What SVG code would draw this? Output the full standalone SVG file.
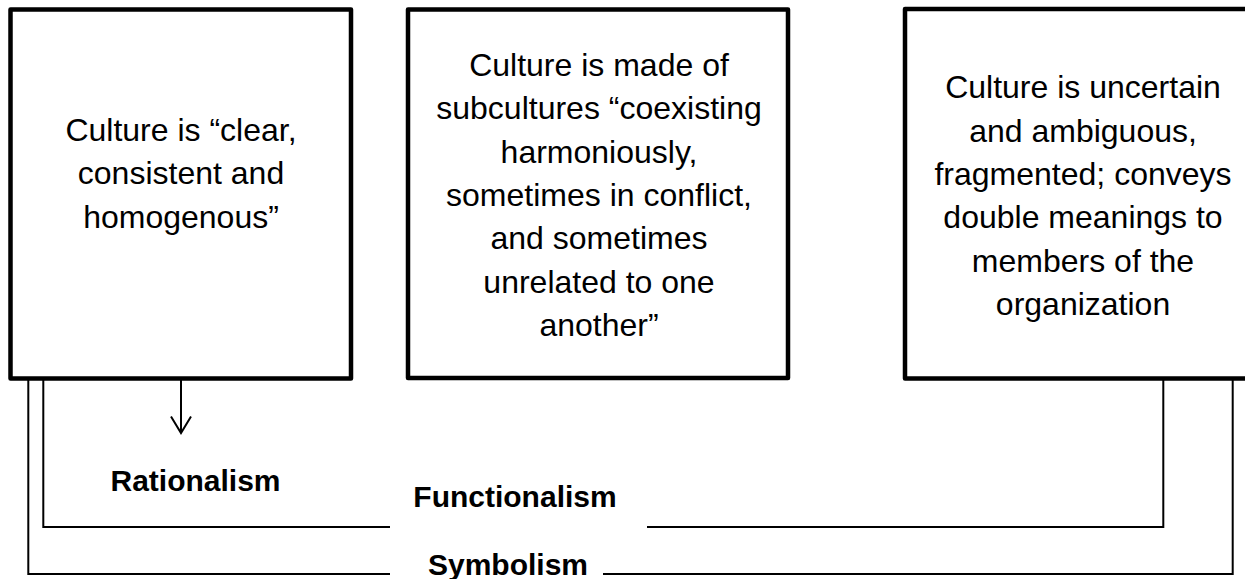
<svg xmlns="http://www.w3.org/2000/svg" width="1245" height="579" viewBox="0 0 1245 579">
<style>
.box{fill:#fff;stroke:#000;stroke-width:4.5;stroke-linejoin:round}
.t{font-family:"Liberation Sans",Arial,sans-serif;font-size:32px;fill:#000;text-anchor:middle}
.lbl{font-family:"Liberation Sans",Arial,sans-serif;font-size:30px;font-weight:bold;fill:#000;text-anchor:middle}
.c{fill:none;stroke:#000;stroke-width:2}
</style>
<rect width="1245" height="579" fill="#fff"/>
<g id="connectors">
<line class="c" x1="181" y1="380" x2="181" y2="433"/>
<polyline class="c" points="171,416.5 181,433 191,416.5"/>
<polyline class="c" points="390,527 43.3,527 43.3,380"/>
<polyline class="c" points="647,527 1163.3,527 1163.3,380"/>
<polyline class="c" points="390,574 28.3,574 28.3,380"/>
<polyline class="c" points="603,574 1232.7,574 1232.7,380"/>
</g>
<g id="box1">
<rect class="box" x="10.5" y="9.5" width="340.5" height="369"/>
<text class="t" x="181" y="140.5">Culture is “clear,</text>
<text class="t" x="181" y="184">consistent and</text>
<text class="t" x="181" y="227.5">homogenous”</text>
</g>
<g id="box2">
<rect class="box" x="408" y="9.5" width="380" height="368.5"/>
<text class="t" x="599" y="76">Culture is made of</text>
<text class="t" x="599" y="119.3">subcultures “coexisting</text>
<text class="t" x="599" y="162.6">harmoniously,</text>
<text class="t" x="599" y="206">sometimes in conflict,</text>
<text class="t" x="599" y="249.3">and sometimes</text>
<text class="t" x="599" y="292.6">unrelated to one</text>
<text class="t" x="599" y="336">another”</text>
</g>
<g id="box3">
<rect class="box" x="905" y="9" width="360" height="369.5"/>
<text class="t" x="1083" y="98.3">Culture is uncertain</text>
<text class="t" x="1083" y="141.6">and ambiguous,</text>
<text class="t" x="1083" y="184.9">fragmented; conveys</text>
<text class="t" x="1083" y="228.2">double meanings to</text>
<text class="t" x="1083" y="271.5">members of the</text>
<text class="t" x="1083" y="314.8">organization</text>
</g>
<g id="rationalism">
<text class="lbl" x="195.5" y="490.5">Rationalism</text>
</g>
<g id="functionalism">
<text class="lbl" x="515" y="507">Functionalism</text>
</g>
<g id="symbolism">
<text class="lbl" x="508" y="575">Symbolism</text>
</g>
</svg>
